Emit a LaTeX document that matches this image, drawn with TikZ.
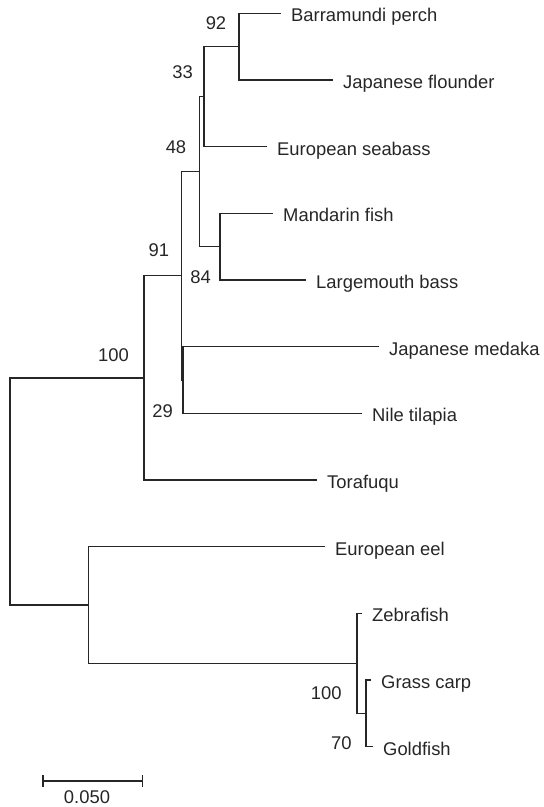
\documentclass[tikz,border=0pt]{standalone}
\usepackage{fontspec}
\setmainfont{Liberation Sans}
\begin{document}
\begin{tikzpicture}[x=1pt,y=-1pt,
  branch/.style={line width=1.3pt, draw=black!85},
  leaf/.style={anchor=base west, inner sep=0pt, xshift=10pt, yshift=-8.5pt,
    text=black!85, font=\fontsize{18.4}{22}\selectfont},
  boot/.style={inner sep=0pt, text=black!85, font=\fontsize{18.4}{22}\selectfont}]
\useasboundingbox (0,0) rectangle (544,807);
% leaf tips
\coordinate (barra) at (281,13.3);
\coordinate (jflou) at (333,80);
\coordinate (eseab) at (267,146.7);
\coordinate (mand) at (273,213.3);
\coordinate (lmb) at (306,280);
\coordinate (jmed) at (379,346.7);
\coordinate (nile) at (362,413.3);
\coordinate (tora) at (317,480);
\coordinate (eel) at (325,546.7);
\coordinate (zebra) at (362,613.3);
\coordinate (grass) at (371,680);
\coordinate (gold) at (373,746.7);
% internal nodes
\coordinate (n92) at (239,46.7);
\coordinate (n33) at (204,96.7);
\coordinate (n84) at (220,246.7);
\coordinate (n48) at (199.5,171.7);
\coordinate (n29) at (183,380);
\coordinate (n91) at (181.5,275.8);
\coordinate (n100a) at (144,377.9);
\coordinate (n70) at (366,713.3);
\coordinate (n100b) at (357,663.3);
\coordinate (neel) at (88.3,605);
\coordinate (root) at (10,491.5);
% branches
\draw[branch] (n92) |- (barra);
\draw[branch] (n92) |- (jflou);
\draw[branch] (n33) |- (n92);
\draw[branch] (n33) |- (eseab);
\draw[branch] (n84) |- (mand);
\draw[branch] (n84) |- (lmb);
\draw[branch] (n48) |- (n33);
\draw[branch] (n48) |- (n84);
\draw[branch] (n29) |- (jmed);
\draw[branch] (n29) |- (nile);
\draw[branch] (n91) |- (n48);
\draw[branch] (n91) |- (n29);
\draw[branch] (n100a) |- (n91);
\draw[branch] (n100a) |- (tora);
\draw[branch] (n70) |- (grass);
\draw[branch] (n70) |- (gold);
\draw[branch] (n100b) |- (zebra);
\draw[branch] (n100b) |- (n70);
\draw[branch] (neel) |- (eel);
\draw[branch] (neel) |- (n100b);
\draw[branch] (root) |- (n100a);
\draw[branch] (root) |- (neel);
% leaf labels
\node[leaf] (tbarra) at (barra) {Barramundi perch};
\node[leaf] (tjflou) at (jflou) {Japanese flounder};
\node[leaf] (teseab) at (eseab) {European seabass};
\node[leaf] (tmand) at (mand) {Mandarin fish};
\node[leaf] (tlmb) at (lmb) {Largemouth bass};
\node[leaf] (tjmed) at (jmed) {Japanese medaka};
\node[leaf] (tnile) at (nile) {Nile tilapia};
\node[leaf] (ttora) at (tora) {Torafuqu};
\node[leaf] (teel) at (eel) {European eel};
\node[leaf] (tzebra) at (zebra) {Zebrafish};
\node[leaf] (tgrass) at (grass) {Grass carp};
\node[leaf] (tgold) at (gold) {Goldfish};
% bootstrap values
\node[boot] (b92) at (216,23) {92};
\node[boot] (b33) at (182.7,72.3) {33};
\node[boot] (b48) at (176,147.3) {48};
\node[boot] (b91) at (158.8,249.7) {91};
\node[boot] (b84) at (200.7,277) {84};
\node[boot] (b100a) at (113.5,355) {100};
\node[boot] (b29) at (162.7,410.7) {29};
\node[boot] (b100b) at (326.3,692.7) {100};
\node[boot] (b70) at (341.3,743.3) {70};
% scale bar
\coordinate (sbL) at (43,781);
\coordinate (sbR) at (142.7,781);
\draw[branch] (sbL) -- (sbR);
\draw[branch] ([yshift=6pt]sbL) -- ([yshift=-6pt]sbL);
\draw[branch] ([yshift=6pt]sbR) -- ([yshift=-6pt]sbR);
\node[boot] (sblab) at (87,797) {0.050};
\end{tikzpicture}
\end{document}
